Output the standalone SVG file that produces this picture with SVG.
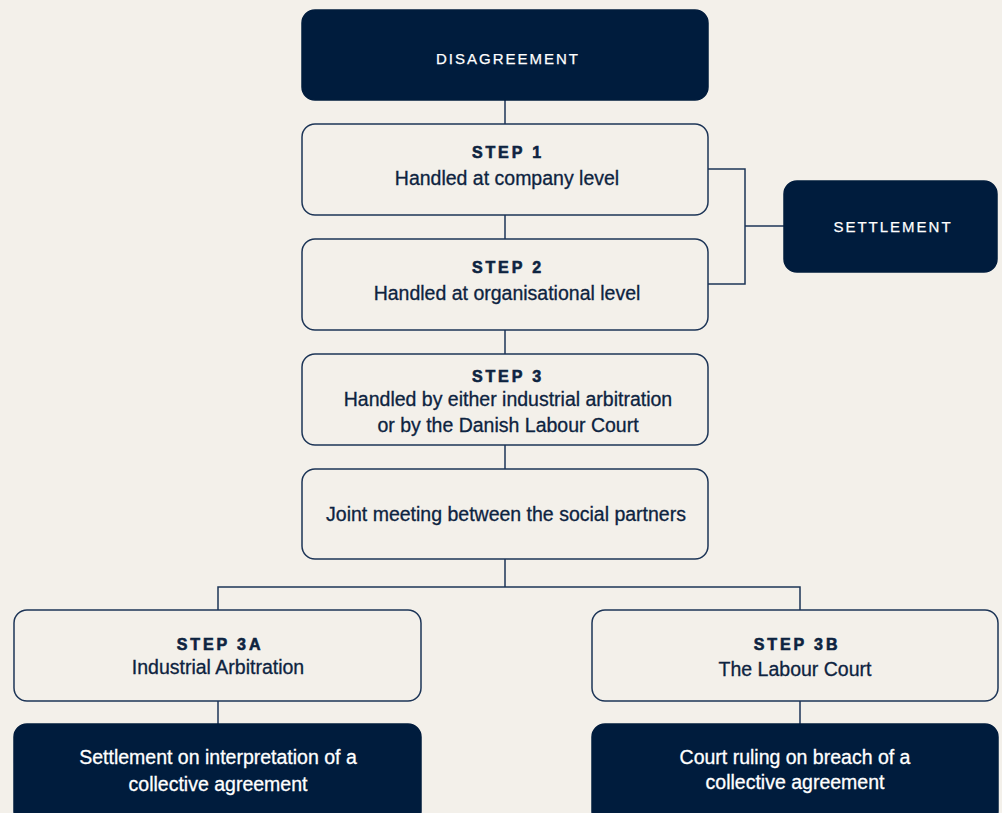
<svg xmlns="http://www.w3.org/2000/svg" width="1002" height="813" viewBox="0 0 1002 813">
<style>
.bg{fill:#f3f0ea}
.dark{fill:#001c3d;stroke:#001c3d;stroke-width:1.5}
.light{fill:#f3f0ea;stroke:#1d3557;stroke-width:1.5}
.conn{fill:none;stroke:#1d3557;stroke-width:1.5}
text{font-family:"Liberation Sans",Arial,sans-serif;text-anchor:middle}
.cap{font-size:15px;letter-spacing:2px;fill:#ffffff;stroke:#ffffff;stroke-width:0.25}
.step{font-size:16px;font-weight:bold;letter-spacing:2.9px;fill:#0d2340;stroke:#0d2340;stroke-width:0.6}
.body{font-size:19.5px;fill:#0d2340;stroke:#0d2340;stroke-width:0.3}
.wbody{font-size:19.5px;fill:#ffffff;stroke:#ffffff;stroke-width:0.3}
</style>
<rect class="bg" x="0" y="0" width="1002" height="813"/>
<g id="connectors">
<line class="conn" x1="505" y1="100" x2="505" y2="124"/>
<line class="conn" x1="505" y1="215" x2="505" y2="239"/>
<line class="conn" x1="505" y1="330" x2="505" y2="354"/>
<line class="conn" x1="505" y1="445" x2="505" y2="469"/>
<line class="conn" x1="505" y1="559" x2="505" y2="587"/>
<polyline class="conn" points="218,610 218,587 800,587 800,610"/>
<line class="conn" x1="218" y1="701" x2="218" y2="724"/>
<line class="conn" x1="800" y1="701" x2="800" y2="724"/>
<polyline class="conn" points="708,169 745,169 745,284 708,284"/>
<line class="conn" x1="745" y1="226" x2="784" y2="226"/>
</g>
<g id="disagreement">
<rect class="dark" x="302" y="10" width="406" height="90" rx="13"/>
<text class="cap" x="508" y="64">DISAGREEMENT</text>
</g>
<g id="step1">
<rect class="light" x="302" y="124" width="406" height="91" rx="13"/>
<text class="step" x="508" y="158">STEP 1</text>
<text class="body" x="507" y="185">Handled at company level</text>
</g>
<g id="step2">
<rect class="light" x="302" y="239" width="406" height="91" rx="13"/>
<text class="step" x="508" y="273">STEP 2</text>
<text class="body" x="507" y="300">Handled at organisational level</text>
</g>
<g id="settlement">
<rect class="dark" x="784" y="181" width="213" height="91" rx="13"/>
<text class="cap" x="893" y="232">SETTLEMENT</text>
</g>
<g id="step3">
<rect class="light" x="302" y="354" width="406" height="91" rx="13"/>
<text class="step" x="508" y="382">STEP 3</text>
<text class="body" x="508" y="406">Handled by either industrial arbitration</text>
<text class="body" x="508" y="432">or by the Danish Labour Court</text>
</g>
<g id="joint">
<rect class="light" x="302" y="469" width="406" height="90" rx="13"/>
<text class="body" x="506" y="521">Joint meeting between the social partners</text>
</g>
<g id="step3a">
<rect class="light" x="14" y="610" width="407" height="91" rx="13"/>
<text class="step" x="220" y="650">STEP 3A</text>
<text class="body" x="218" y="674">Industrial Arbitration</text>
</g>
<g id="step3b">
<rect class="light" x="592" y="610" width="406" height="91" rx="13"/>
<text class="step" x="797" y="650">STEP 3B</text>
<text class="body" x="795" y="676">The Labour Court</text>
</g>
<g id="settlement-interpretation">
<rect class="dark" x="14" y="724" width="407" height="100" rx="13"/>
<text class="wbody" x="218" y="764">Settlement on interpretation of a</text>
<text class="wbody" x="218" y="791">collective agreement</text>
</g>
<g id="court-ruling">
<rect class="dark" x="592" y="724" width="406" height="100" rx="13"/>
<text class="wbody" x="795" y="764">Court ruling on breach of a</text>
<text class="wbody" x="795" y="789">collective agreement</text>
</g>
</svg>
